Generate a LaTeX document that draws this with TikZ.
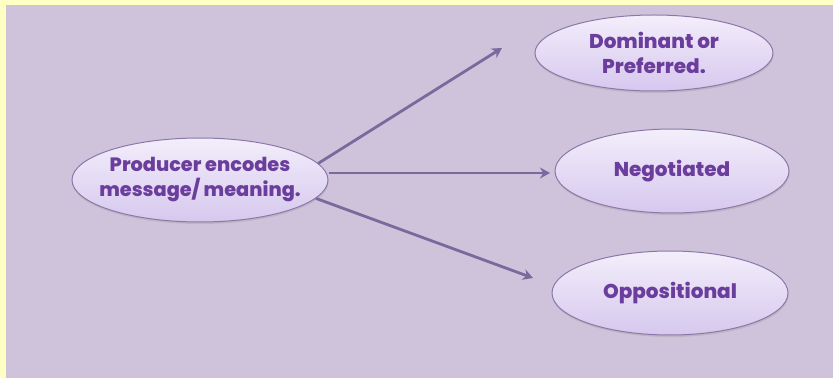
\documentclass[tikz,border=0pt]{standalone}
\usepackage{fontspec}
\setmainfont{Poppins}[UprightFont=* ExtraBold, BoldFont=* ExtraBold]
\usetikzlibrary{shapes.geometric,arrows.meta,shadows}
\definecolor{bgyellow}{HTML}{FFFFC4}
\definecolor{bgpurple}{HTML}{CFC3DC}
\definecolor{txtpurple}{HTML}{6B3D9C}
\definecolor{arrowpurple}{HTML}{7A699D}
\definecolor{elltop}{HTML}{F3EEFB}
\definecolor{ellbot}{HTML}{D6C8EE}
\definecolor{ellborder}{HTML}{8C78A8}
\tikzset{
  oval/.style={ellipse, draw=ellborder, line width=1pt, top color=elltop, bottom color=ellbot,
    minimum width=#1, align=center, font=\fontsize{20}{25}\selectfont, text=txtpurple, inner sep=0pt,
    drop shadow={shadow xshift=0.5pt, shadow yshift=-2pt, fill=black!40, opacity=0.35}},
  conn/.style={draw=arrowpurple, line width=2.8pt, -{Stealth[length=10pt,width=11pt]}}
}
\begin{document}
\begin{tikzpicture}[x=1pt,y=1pt]
\useasboundingbox (0,0) rectangle (833,378);
\fill[bgyellow] (0,0) rectangle (833,378);
\fill[bgpurple] (6,0) rectangle (833,373);
\node[oval=256pt, minimum height=84pt, inner xsep=-15pt, font=\fontsize{19.3}{25}\selectfont] (prod) at (200,198) {Producer encodes\\message/ meaning.};
\node[oval=238pt, minimum height=76pt] (dom) at (654,325) {Dominant or\\Preferred.};
\node[oval=234pt, minimum height=84pt] (neg) at (672,207) {Negotiated};
\node[oval=236pt, minimum height=84pt] (opp) at (670,85) {Oppositional};
\coordinate (a1) at (502,330);
\coordinate (a2) at (550,205);
\coordinate (a3) at (533,100);
\draw[conn] (prod.8) -- (a1);
\draw[conn] (prod.east |- a2) -- (a2);
\draw[conn] (prod.-9) -- (a3);
\end{tikzpicture}
\end{document}
